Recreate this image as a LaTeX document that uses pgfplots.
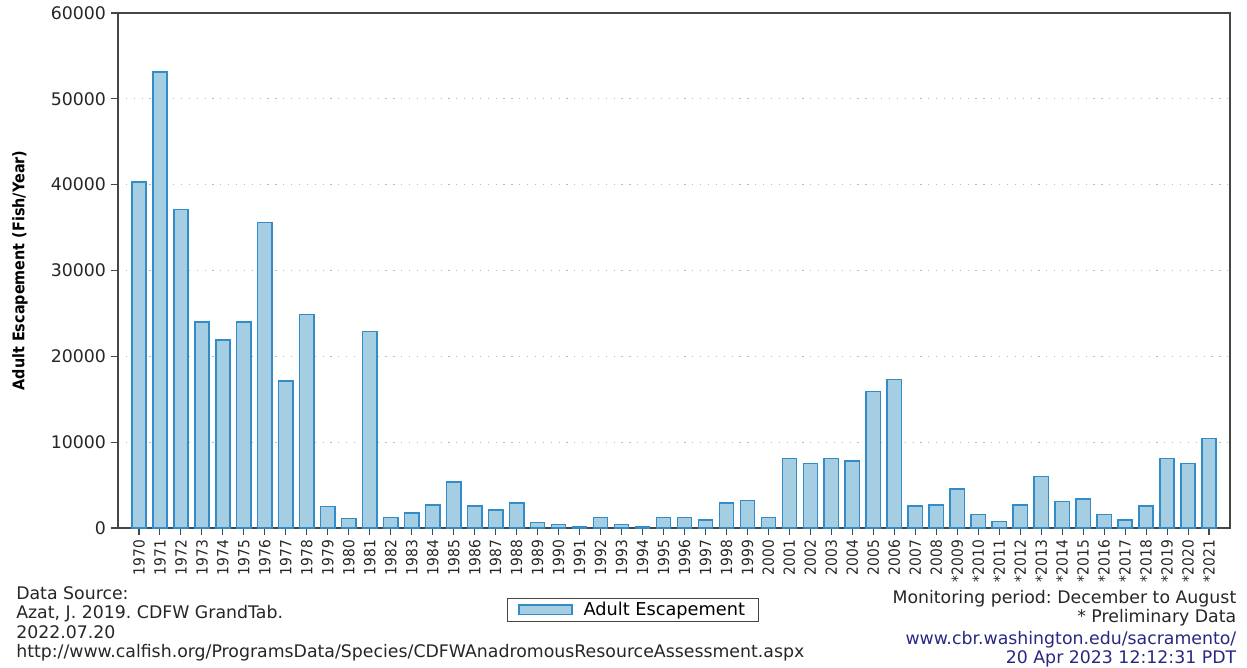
\documentclass[border=0pt]{standalone}
\usepackage{fontspec}
\setmainfont{DejaVu Sans}
\newfontfamily\condfont[FakeStretch=0.9]{DejaVu Sans}
\usepackage{pgfplots}
\pgfplotsset{compat=1.18}
\definecolor{barfill}{RGB}{166,206,227}
\definecolor{barline}{RGB}{50,140,200}
\definecolor{axisgray}{RGB}{70,70,70}
\definecolor{linknavy}{RGB}{40,40,130}

\begin{document}
\frenchspacing
\begin{tikzpicture}
  \begin{axis}[
      scale only axis,
      width=834pt, height=386.25pt,
      xmin=-1, xmax=52,
      ymin=0, ymax=60000,
      ytick={0,10000,20000,30000,40000,50000,60000},
      xtick={0,...,51},
      xticklabels={1970,1971,1972,1973,1974,1975,1976,1977,1978,1979,
        1980,1981,1982,1983,1984,1985,1986,1987,1988,1989,
        1990,1991,1992,1993,1994,1995,1996,1997,1998,1999,
        2000,2001,2002,2003,2004,2005,2006,2007,2008,*2009,
        *2010,*2011,*2012,*2013,*2014,*2015,*2016,*2017,*2018,*2019,
        *2020,*2021},
      scaled y ticks=false,
      /pgf/number format/fixed,
      /pgf/number format/1000 sep={},
      /pgf/number format/assume math mode=true,
      tick align=outside,
      xtick pos=bottom, ytick pos=left,
      major tick length=5.5pt,
      tick style={axisgray, line width=0.8pt},
      axis line style={axisgray, line width=1.1pt},
      y tick label style={font=\fontsize{13}{15}\selectfont, text=black!85},
      x tick label style={font=\condfont\fontsize{11.5}{13}\selectfont, text=black!85, rotate=90, anchor=east},
      ymajorgrids,
      grid style={gray!55, line width=0.9pt, dash pattern=on 0.9pt off 5pt},
      ylabel={Adult Escapement (Fish/Year)},
      every axis y label/.style={at={(axis description cs:-0.0881,0.5)}, rotate=90, anchor=center,
        font=\condfont\bfseries\fontsize{12}{14}\selectfont},
      legend style={at={(0.463,-0.159)}, anchor=center, draw=axisgray, line width=0.8pt,
        font=\fontsize{13.3}{15}\selectfont, inner xsep=8pt, inner ysep=1pt},
      legend image code/.code={\draw[#1, line width=1.1pt] (0pt,-3.6pt) rectangle (40pt,3.6pt);
        \path (46pt,0pt);},
    ]
    \addplot[ybar, bar width=0.68, fill=barfill, draw=barline, line width=1.1pt]
      coordinates {
      (0,40300) (1,53100) (2,37100) (3,24000) (4,21900) (5,24000) (6,35600) (7,17100)
      (8,24900) (9,2500) (10,1100) (11,22900) (12,1250) (13,1750) (14,2700) (15,5350)
      (16,2560) (17,2100) (18,2900) (19,620) (20,420) (21,120) (22,1250) (23,420)
      (24,120) (25,1250) (26,1250) (27,950) (28,2900) (29,3200) (30,1250) (31,8100)
      (32,7500) (33,8100) (34,7800) (35,15900) (36,17300) (37,2560) (38,2700) (39,4550)
      (40,1550) (41,780) (42,2700) (43,6000) (44,3070) (45,3380) (46,1550) (47,950)
      (48,2560) (49,8100) (50,7500) (51,10450)
    };
    \addlegendentry{Adult Escapement}
  \end{axis}

  % footer notes
  \begin{scope}[every node/.style={inner sep=0pt, font=\fontsize{13}{15}\selectfont, text=black!85}]
    \node[anchor=base west] at (-76.5pt,-53.5pt) {Data Source:};
    \node[anchor=base west] at (-76.5pt,-68.0pt) {Azat, J. 2019. CDFW GrandTab.};
    \node[anchor=base west] at (-76.5pt,-82.5pt) {2022.07.20};
    \node[anchor=base west] at (-76.5pt,-97.0pt) {http://www.calfish.org/ProgramsData/Species/CDFWAnadromousResourceAssessment.aspx};
  \end{scope}
  \begin{scope}[every node/.style={inner sep=0pt, font=\fontsize{13}{15}\selectfont}]
    \node[anchor=base east, text=black!85] at (838.9pt,-56.5pt) {Monitoring period: December to August};
    \node[anchor=base east, text=black!85] at (838.9pt,-71.0pt) {* Preliminary Data};
    \node[anchor=base east, text=linknavy] at (838.9pt,-87.2pt) {www.cbr.washington.edu/sacramento/};
    \node[anchor=base east, text=linknavy] at (838.9pt,-101.5pt) {20 Apr 2023 12:12:31 PDT};
  \end{scope}

  \pgfresetboundingbox
  \path[use as bounding box] (-88.5pt,-105pt) rectangle (846.75pt,396pt);
\end{tikzpicture}
\end{document}
